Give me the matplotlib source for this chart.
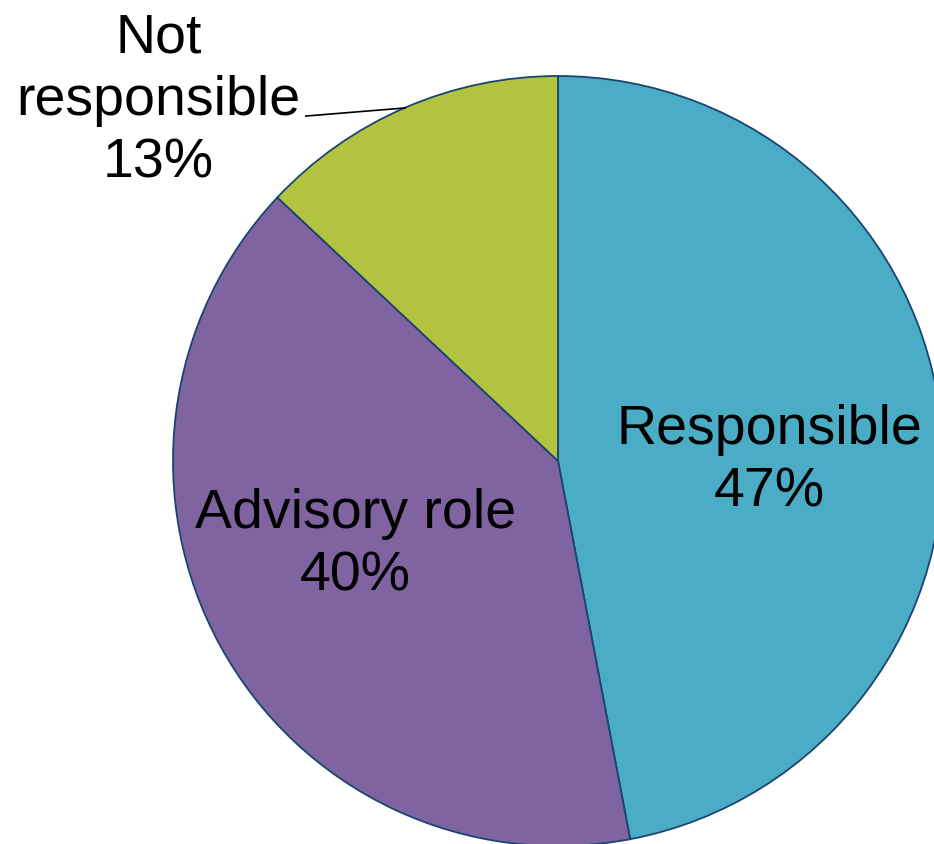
import matplotlib.pyplot as plt

plt.rcParams['font.family'] = ['Liberation Sans', 'DejaVu Sans']

# Share of respondents by responsibility
categories = ["Responsible", "Advisory role", "Not\nresponsible"]
shares = [47, 40, 13]
colors = ["#4BACC6", "#8064A2", "#B2C43F"]

W, H = 934, 844
cx, cy, r = 558, 461, 385  # pie centre / radius in pixels

fig = plt.figure(figsize=(W / 100, H / 100), dpi=100)
ax = fig.add_axes([0, 0, 1, 1])
ax.pie(shares, colors=colors, startangle=90, counterclock=False,
       radius=1, wedgeprops=dict(edgecolor="#1B4470", linewidth=1.3))
ax.set_xlim(-cx / r, (W - cx) / r)
ax.set_ylim(-(H - cy) / r, cy / r)
ax.set_aspect("equal")
ax.axis("off")

# label positions (data units)
pos = [(0.550, 0.0), (-0.527, -0.218), (-1.038, 0.935)]
for name, v, (x, y) in zip(categories, shares, pos):
    ax.text(x, y, f"{name}\n{v}%", ha="center", va="center",
            fontsize=40, linespacing=1.27, clip_on=False)

# leader line for the small slice
ax.plot([-0.655, -0.397], [0.896, 0.917], color="black", linewidth=1.2)

fig.savefig("out.png", dpi=100)
